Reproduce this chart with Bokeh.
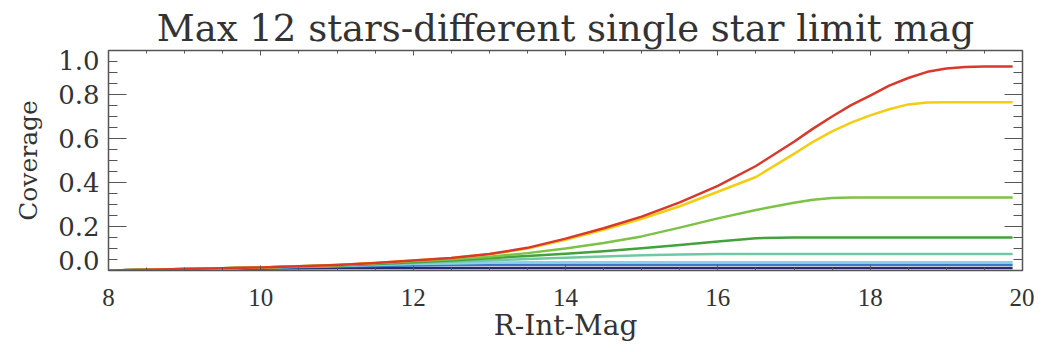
from bokeh.plotting import figure
from bokeh.models import (LinearAxis, SingleIntervalTicker, Range1d, FixedTicker,
                          CustomJSTickFormatter)
from bokeh.embed import file_html
from bokeh.resources import INLINE

mags = [8.0, 8.5, 9.0, 9.5, 10.0, 10.5, 11.0, 11.5, 12.0, 12.5, 13.0, 13.5, 14.0,
        14.5, 15.0, 15.5, 16.0, 16.5, 17.0, 17.25, 17.5, 17.75, 18.0, 18.25, 18.5,
        18.75, 19.0, 19.25, 19.5, 19.87]

red = [0.000, 0.003, 0.007, 0.010, 0.014, 0.019, 0.025, 0.034, 0.045, 0.057, 0.075, 0.103, 0.145,
       0.192, 0.245, 0.310, 0.385, 0.475, 0.585, 0.645, 0.700, 0.752, 0.795, 0.840, 0.875,
       0.903, 0.918, 0.925, 0.927, 0.927]
yellow = [0.000, 0.003, 0.007, 0.010, 0.014, 0.019, 0.025, 0.034, 0.045, 0.057, 0.074, 0.100, 0.140,
          0.185, 0.235, 0.292, 0.358, 0.425, 0.530, 0.585, 0.632, 0.672, 0.705, 0.733, 0.755,
          0.764, 0.765, 0.765, 0.765, 0.765]
green = [0.000, 0.003, 0.007, 0.010, 0.014, 0.019, 0.025, 0.033, 0.042, 0.051, 0.063, 0.079, 0.100,
         0.125, 0.155, 0.195, 0.237, 0.275, 0.308, 0.322, 0.329, 0.332, 0.332, 0.332, 0.332,
         0.332, 0.332, 0.332, 0.332, 0.332]
darkgreen = [0.000, 0.003, 0.007, 0.010, 0.014, 0.018, 0.023, 0.030, 0.037, 0.046, 0.056, 0.066, 0.076,
             0.088, 0.101, 0.116, 0.132, 0.147, 0.150, 0.150, 0.150, 0.150, 0.150, 0.150, 0.150,
             0.150, 0.150, 0.150, 0.150, 0.150]
teal = [0.000, 0.003, 0.007, 0.010, 0.014, 0.018, 0.022, 0.028, 0.034, 0.040, 0.046, 0.052, 0.058,
        0.064, 0.069, 0.073, 0.075, 0.075, 0.075, 0.075, 0.075, 0.075, 0.075, 0.075, 0.075,
        0.075, 0.075, 0.075, 0.075, 0.075]
lightblue = [0.000, 0.003, 0.007, 0.010, 0.013, 0.017, 0.021, 0.025, 0.029, 0.032, 0.035, 0.037, 0.038,
             0.038, 0.038, 0.038, 0.038, 0.038, 0.038, 0.038, 0.038, 0.038, 0.038, 0.038, 0.038,
             0.038, 0.038, 0.038, 0.038, 0.038]
blue = [0.000, 0.003, 0.006, 0.009, 0.012, 0.015, 0.018, 0.021, 0.023, 0.025, 0.026, 0.026, 0.026,
        0.026, 0.026, 0.026, 0.026, 0.026, 0.026, 0.026, 0.026, 0.026, 0.026, 0.026, 0.026,
        0.026, 0.026, 0.026, 0.026, 0.026]
navy = [0.000, 0.003, 0.005, 0.007, 0.009, 0.010, 0.011, 0.011, 0.011, 0.011, 0.011, 0.011, 0.011,
        0.011, 0.011, 0.011, 0.011, 0.011, 0.011, 0.011, 0.011, 0.011, 0.011, 0.011, 0.011,
        0.011, 0.011, 0.011, 0.011, 0.011]

series = [navy, blue, lightblue, teal, darkgreen, green, yellow, red]
colors = ["#272a6f", "#3c78c4", "#8ccfe8", "#6fc7a6", "#43a23c", "#7cc246", "#f4cd10", "#d8392a"]

title_text = "Max 12 stars-different single star limit mag"
x_label = "R-Int-Mag"
y_label = "Coverage"
x_ticks_step = 2
y_ticks_step = 0.2
# tick-label anchor positions: the end labels sit slightly inside the frame, as in the original
y_label_positions = [0.045, 0.2, 0.4, 0.6, 0.8, 0.955]

text_color = "#333333"
axis_color = "#555555"

p = figure(width=1034, height=352, output_backend="svg", toolbar_location=None,
           x_range=Range1d(8, 20), y_range=Range1d(0, 1.0),
           min_border_left=108, min_border_right=12, min_border_top=50, min_border_bottom=82,
           title=title_text)
p.title.text_font = "DejaVu Serif"
p.title.text_font_size = "37px"
p.title.text_font_style = "normal"
p.title.text_color = text_color
p.title.align = "center"
p.title.standoff = 2

p.xgrid.visible = False
p.ygrid.visible = False
p.outline_line_color = axis_color
p.outline_line_width = 1.5

blank = CustomJSTickFormatter(code="return ''")

def style_x(ax, labels=True):
    ax.ticker = SingleIntervalTicker(interval=x_ticks_step, num_minor_ticks=4)
    ax.major_tick_in = 5
    ax.major_tick_out = 0
    ax.minor_tick_in = 3
    ax.minor_tick_out = 0
    ax.axis_line_color = axis_color
    ax.major_tick_line_color = axis_color
    ax.minor_tick_line_color = axis_color
    if labels:
        ax.major_label_text_font = "Liberation Serif"
        ax.major_label_text_font_size = "25px"
        ax.major_label_text_color = text_color
        ax.major_label_standoff = 18
        ax.axis_label_text_font = "DejaVu Serif"
        ax.axis_label_text_font_size = "28px"
        ax.axis_label_text_font_style = "normal"
        ax.axis_label_text_color = text_color
        ax.axis_label_standoff = 0
    else:
        ax.formatter = blank
        ax.major_label_standoff = 0

def style_y_ticks(ax):
    ax.ticker = SingleIntervalTicker(interval=y_ticks_step, num_minor_ticks=4)
    ax.formatter = blank
    ax.major_label_standoff = 0
    ax.major_tick_in = 18
    ax.major_tick_out = 0
    ax.minor_tick_in = 9
    ax.minor_tick_out = 0
    ax.axis_line_color = axis_color
    ax.major_tick_line_color = axis_color
    ax.minor_tick_line_color = axis_color

# left: inner axis carries the ticks, outer axis carries the labels
style_y_ticks(p.yaxis[0])
p.xaxis.axis_label = x_label
style_x(p.xaxis[0])

label_ax = LinearAxis(axis_label=y_label)
label_ax.ticker = FixedTicker(ticks=y_label_positions, minor_ticks=[])
label_ax.formatter = CustomJSTickFormatter(
    code="if (tick < 0.1) { return '0.0'; } if (tick > 0.9) { return '1.0'; } return tick.toFixed(1);")
label_ax.axis_line_color = None
label_ax.major_tick_line_color = None
label_ax.minor_tick_line_color = None
label_ax.major_tick_in = 0
label_ax.major_tick_out = 0
label_ax.major_label_text_font = "DejaVu Serif"
label_ax.major_label_text_font_size = "26px"
label_ax.major_label_text_color = text_color
label_ax.major_label_standoff = 9
label_ax.major_label_orientation = "horizontal"
label_ax.axis_label_text_font = "DejaVu Serif"
label_ax.axis_label_text_font_size = "25px"
label_ax.axis_label_text_font_style = "normal"
label_ax.axis_label_text_color = text_color
label_ax.axis_label_standoff = 12
p.add_layout(label_ax, "left")

top_ax = LinearAxis()
style_x(top_ax, labels=False)
p.add_layout(top_ax, "above")
right_ax = LinearAxis()
style_y_ticks(right_ax)
p.add_layout(right_ax, "right")

for ys, c in zip(series, colors):
    p.line(mags, ys, line_color=c, line_width=2.5, line_join="round")

open("out.html", "w").write(file_html(p, INLINE))
